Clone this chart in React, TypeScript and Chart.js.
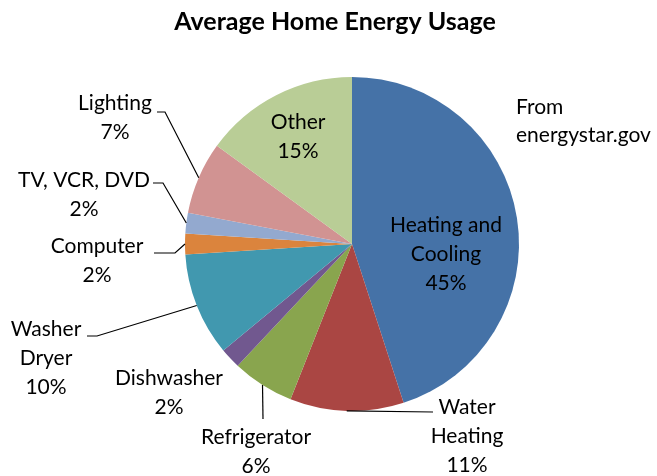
import { useEffect, useRef } from "react";
import { Chart, registerables } from "chart.js";
Chart.register(...registerables);

const categories = [
  "Heating and Cooling",
  "Water Heating",
  "Refrigerator",
  "Dishwasher",
  "Washer Dryer",
  "Computer",
  "TV, VCR, DVD",
  "Lighting",
  "Other",
];
const values = [45, 11, 6, 2, 10, 2, 2, 7, 15];
const labelLines = [
  ["Heating and", "Cooling"],
  ["Water", "Heating"],
  ["Refrigerator"],
  ["Dishwasher"],
  ["Washer", "Dryer"],
  ["Computer"],
  ["TV, VCR, DVD"],
  ["Lighting"],
  ["Other"],
];
const titleText = "Average Home Energy Usage";
const noteLines = ["From", "energystar.gov"];

const colors = [
  "#4572A7",
  "#AA4643",
  "#89A54E",
  "#71588F",
  "#4198AF",
  "#DB843D",
  "#93A9CF",
  "#D19392",
  "#B9CD96",
];

// label layout: text center x, first-line center y, optional leader points (joined to arc edge)
const labelLayout: { x: number; y: number; leader: number[][] | null }[] = [
  { x: 446, y: 225, leader: null },
  { x: 467, y: 407, leader: [[433, 412]] },
  { x: 256, y: 437, leader: [[263, 419]] },
  { x: 169, y: 378, leader: null },
  { x: 46, y: 329, leader: [[87, 336], [97, 336]] },
  { x: 97, y: 246, leader: [[154, 253], [175, 253]] },
  { x: 84, y: 180, leader: [[153, 183], [163, 183]] },
  { x: 115, y: 103, leader: [[157, 112], [165, 112]] },
  { x: 298, y: 122, leader: null },
];

const FONT = "Lato, 'Open Sans', sans-serif";
const LINE_H = 29;

const labelPlugin = {
  id: "pieLabels",
  afterDraw(chart: any) {
    const ctx = chart.ctx;
    const meta = chart.getDatasetMeta(0);
    ctx.save();
    ctx.fillStyle = "#000";
    ctx.textAlign = "center";
    ctx.textBaseline = "middle";
    ctx.font = `bold 25px ${FONT}`;
    ctx.fillText(titleText, 335, 22);
    ctx.font = `21px ${FONT}`;
    ctx.textAlign = "left";
    noteLines.forEach((t, i) => ctx.fillText(t, 516, 107 + i * 28));
    ctx.textAlign = "center";
    const total = values.reduce((a, b) => a + b, 0);
    meta.data.forEach((arc: any, i: number) => {
      const lay = labelLayout[i];
      const lines = [...labelLines[i], `${Math.round((values[i] / total) * 100)}%`];
      lines.forEach((t, j) => ctx.fillText(t, lay.x, lay.y + j * LINE_H));
      if (lay.leader) {
        const p = arc.getProps(["x", "y", "startAngle", "endAngle", "outerRadius"], true);
        const mid = (p.startAngle + p.endAngle) / 2;
        const ex = p.x + Math.cos(mid) * p.outerRadius;
        const ey = p.y + Math.sin(mid) * p.outerRadius;
        ctx.beginPath();
        ctx.strokeStyle = "#000";
        ctx.lineWidth = 1.2;
        ctx.moveTo(lay.leader[0][0], lay.leader[0][1]);
        for (let k = 1; k < lay.leader.length; k++) ctx.lineTo(lay.leader[k][0], lay.leader[k][1]);
        ctx.lineTo(ex, ey);
        ctx.stroke();
      }
    });
    ctx.restore();
  },
};

export default function App() {
  const ref = useRef<HTMLCanvasElement>(null);
  useEffect(() => {
    document.body.style.margin = "0";
    const chart = new Chart(ref.current!, {
      type: "pie",
      data: {
        labels: categories,
        datasets: [
          {
            data: values,
            backgroundColor: colors,
            borderWidth: 0,
          },
        ],
      },
      options: {
        responsive: false,
        animation: false,
        layout: { padding: { left: 185, right: 138, top: 77, bottom: 65 } },
        plugins: {
          legend: { display: false },
          title: { display: false },
          tooltip: { enabled: false },
        },
      },
      plugins: [labelPlugin],
    });
    return () => chart.destroy();
  }, []);
  return (
    <div style={{ width: 657, height: 476, background: "#fff" }}>
      <canvas ref={ref} width={657} height={476} style={{ display: "block" }} />
    </div>
  );
}
